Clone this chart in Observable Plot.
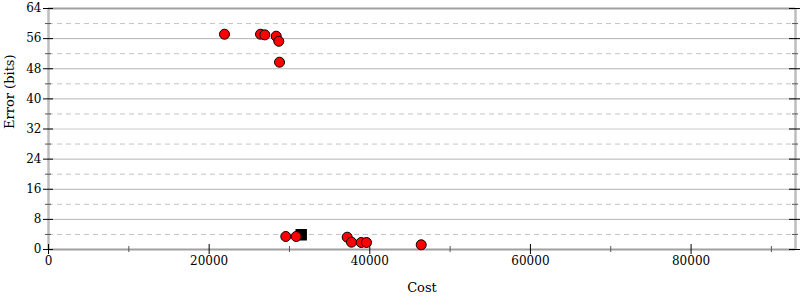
<!DOCTYPE html>
<html>
<head>
<meta charset="utf-8">
<script src="https://cdn.jsdelivr.net/npm/d3@7"></script>
<script src="https://cdn.jsdelivr.net/npm/@observablehq/plot@0.6"></script>
<style>
  body { margin: 0; background: #fff; }
</style>
</head>
<body>
<div id="chart"></div>
<script>
// Data
const circleCost  = [21912, 26394, 26929, 28349, 28672, 28760, 29544, 30839, 37188, 37724, 38931, 39591, 46401];
const circleError = [57.17, 57.17, 57.0, 56.64, 55.3, 49.74, 3.45, 3.45, 3.27, 1.94, 1.86, 1.86, 1.25];
const squareCost  = [31461];
const squareError = [3.9];

const xMax = 93000;
const yMax = 64;
const xMajorTicks = [0, 20000, 40000, 60000, 80000];
const xMinorTicks = [10000, 30000, 50000, 70000, 90000];
const yMajorTicks = [0, 8, 16, 24, 32, 40, 48, 56, 64];
const yMinorTicks = [4, 12, 20, 28, 36, 44, 52, 60];
const yGridSolid  = [8, 16, 24, 40, 48, 56];
const yGridLight  = [32];

const circles = circleCost.map((c, i) => ({cost: c, error: circleError[i]}));
const squares = squareCost.map((c, i) => ({cost: c, error: squareError[i]}));

const font = "DejaVu Serif";

const chart = Plot.plot({
  width: 800,
  height: 300,
  marginLeft: 48,
  marginRight: 5,
  marginTop: 8,
  marginBottom: 51,
  style: {fontFamily: font, fontSize: "12px", background: "#fff", color: "#000"},
  x: {domain: [0, xMax], axis: null},
  y: {domain: [0, yMax], axis: null},
  marks: [
    // grid
    Plot.ruleY(yMinorTicks, {y: d => d, stroke: "#c4c4c4", strokeWidth: 1, strokeDasharray: "5,4"}),
    Plot.ruleY(yGridSolid, {y: d => d, stroke: "#b4b4b4", strokeWidth: 1}),
    Plot.ruleY(yGridLight, {y: d => d, stroke: "#dcdcdc", strokeWidth: 1.5}),
    // frame
    Plot.ruleX([0, xMax], {x: d => d, stroke: "#bdbdbd", strokeWidth: 2.5}),
    Plot.ruleY([0, yMax], {y: d => d, stroke: "#a0a0a0", strokeWidth: 2}),
    // y ticks left and right
    Plot.ruleY(yMajorTicks, {y: d => d, x1: 0, x2: 0, insetLeft: -5, insetRight: -5, stroke: "#000"}),
    Plot.ruleY(yMinorTicks, {y: d => d, x1: 0, x2: 0, insetLeft: -3, insetRight: -3, stroke: "#555"}),
    Plot.ruleY(yMajorTicks, {y: d => d, x1: xMax, x2: xMax, insetLeft: -6, insetRight: -6, stroke: "#000"}),
    Plot.ruleY(yMinorTicks, {y: d => d, x1: xMax, x2: xMax, insetLeft: -3, insetRight: -3, stroke: "#555"}),
    // x ticks
    Plot.ruleX(xMajorTicks, {x: d => d, y1: 0, y2: 0, insetTop: -5, insetBottom: -5, stroke: "#000"}),
    Plot.ruleX(xMinorTicks, {x: d => d, y1: 0, y2: 0, insetTop: -3, insetBottom: -3, stroke: "#555"}),
    // tick labels
    Plot.text(xMajorTicks, {x: d => d, frameAnchor: "bottom", dy: 15, text: d => String(d), fill: "#000"}),
    Plot.text(yMajorTicks, {y: d => d, frameAnchor: "left", dx: -7, textAnchor: "end", text: d => String(d), fill: "#000"}),
    // axis titles
    Plot.text(["Cost"], {frameAnchor: "bottom", dy: 42, text: d => d, fill: "#000", fontSize: 13}),
    Plot.text(["Error (bits)"], {frameAnchor: "left", dx: -39, rotate: -90, text: d => d, fill: "#000", fontSize: 13}),
    // points
    Plot.dot(squares, {x: "cost", y: "error", symbol: "square", r: 5.6, fill: "#000", stroke: "#000"}),
    Plot.dot(circles, {x: "cost", y: "error", r: 5, fill: "#ff0000", stroke: "#000", strokeWidth: 1})
  ]
});

document.getElementById("chart").appendChild(chart);
</script>
</body>
</html>
